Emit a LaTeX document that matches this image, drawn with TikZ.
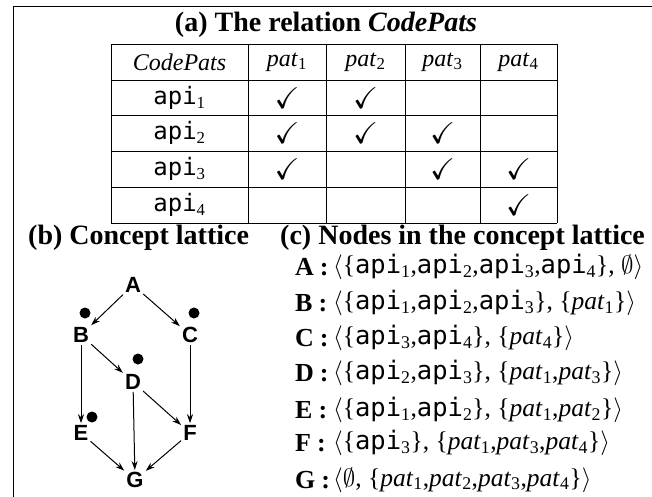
\documentclass[tikz,border=0pt]{standalone}
\usepackage{amssymb}
\usepackage{fontspec}
\setmainfont{Liberation Serif}
\setmonofont{DejaVu Sans Mono}
\newfontfamily\lsans{Liberation Sans}
\usetikzlibrary{arrows.meta}
\newcommand{\ap}[1]{\texttt{api}\textsubscript{#1}}
\newcommand{\pa}[1]{\textit{pat}\textsubscript{#1}}
\begin{document}
\begin{tikzpicture}[x=1pt,y=-1pt,
  ttl/.style={font=\fontsize{28}{30}\selectfont\bfseries, inner sep=0pt},
  cell/.style={font=\fontsize{24}{26}\selectfont, inner sep=0pt},
  chk/.style={font=\fontsize{30}{32}\selectfont, inner sep=0pt},
  lbl/.style={font=\fontsize{26}{28}\selectfont\bfseries, anchor=west, inner sep=0pt},
  frm/.style={font=\fontsize{25.5}{28}\selectfont, anchor=west, inner sep=0pt},
  lat/.style={font=\lsans\bfseries\fontsize{22}{24}\selectfont, inner sep=2pt},
  edge/.style={-{Stealth[length=9pt,width=6pt]}, line width=1pt},
  grid/.style={line width=0.8pt},
  dot/.style={circle, fill=black, inner sep=0pt, minimum size=11pt}]
\useasboundingbox (0,0) rectangle (652,496);
% frame (top and left edges visible)
\draw[line width=1pt] (13,500) -- (13,6) -- (660,6);
% (a)
\node[ttl] (ta) at (326,25) {(a) The relation \textit{CodePats}};
\foreach \x in {111,248,326,405,480,557} \draw[grid] (\x,44) -- (\x,223);
\foreach \y in {44,80,115.5,151,187,223} \draw[grid] (111,\y) -- (557,\y);
\node[cell] (h0) at (179.5,62) {\textit{CodePats}};
\node[cell] (h1) at (287,62) {\pa{1}};
\node[cell] (h2) at (365.5,62) {\pa{2}};
\node[cell] (h3) at (442.5,62) {\pa{3}};
\node[cell] (h4) at (518.5,62) {\pa{4}};
\node[cell] (r1) at (179.5,98) {\ap{1}};
\node[cell] (r2) at (179.5,133) {\ap{2}};
\node[cell] (r3) at (179.5,169) {\ap{3}};
\node[cell] (r4) at (179.5,205) {\ap{4}};
\node[chk] (c11) at (287,98) {$\checkmark$};
\node[chk] (c12) at (365.5,98) {$\checkmark$};
\node[chk] (c21) at (287,133) {$\checkmark$};
\node[chk] (c22) at (365.5,133) {$\checkmark$};
\node[chk] (c23) at (442.5,133) {$\checkmark$};
\node[chk] (c31) at (287,169) {$\checkmark$};
\node[chk] (c33) at (442.5,169) {$\checkmark$};
\node[chk] (c34) at (518.5,169) {$\checkmark$};
\node[chk] (c44) at (518.5,205) {$\checkmark$};
% (b)
\node[ttl, anchor=west] (tb) at (28,238) {(b) Concept lattice};
\node[lat] (A) at (133,285) {A};
\node[lat] (B) at (81,335) {B};
\node[lat] (C) at (190,335) {C};
\node[lat] (D) at (133,382) {D};
\node[lat] (E) at (81,433) {E};
\node[lat] (F) at (190,433) {F};
\node[lat] (G) at (135,480) {G};
\node[dot] (dB) at (85,313) {};
\node[dot] (dC) at (194,313) {};
\node[dot] (dD) at (138,359) {};
\node[dot] (dE) at (92,417) {};
\draw[edge] (A) -- (B);
\draw[edge] (A) -- (C);
\draw[edge] (B) -- (D);
\draw[edge] (B) -- (E);
\draw[edge] (C) -- (F);
\draw[edge] (D) -- (F);
\draw[edge] (D) -- (G);
\draw[edge] (E) -- (G);
\draw[edge] (F) -- (G);
% (c)
\node[ttl, anchor=west] (tc) at (280,238) {(c) Nodes in the concept lattice};
\node[lbl] (lA) at (295,267) {A\hspace{6pt}:};
\node[lbl] (lB) at (295,303) {B\hspace{6pt}:};
\node[lbl] (lC) at (295,338) {C\hspace{6pt}:};
\node[lbl] (lD) at (295,373) {D\hspace{6pt}:};
\node[lbl] (lE) at (295,410) {E\hspace{6pt}:};
\node[lbl] (lF) at (295,443) {F\hspace{6pt}:};
\node[lbl] (lG) at (295,480) {G\hspace{6pt}:};
\node[frm] (fA) at (333,267) {$\langle$\{\ap{1},\ap{2},\ap{3},\ap{4}\}, $\emptyset\rangle$};
\node[frm] (fB) at (333,303) {$\langle$\{\ap{1},\ap{2},\ap{3}\}, \{\pa{1}\}$\rangle$};
\node[frm] (fC) at (333,338) {$\langle$\{\ap{3},\ap{4}\}, \{\pa{4}\}$\rangle$};
\node[frm] (fD) at (333,373) {$\langle$\{\ap{2},\ap{3}\}, \{\pa{1},\pa{3}\}$\rangle$};
\node[frm] (fE) at (333,410) {$\langle$\{\ap{1},\ap{2}\}, \{\pa{1},\pa{2}\}$\rangle$};
\node[frm] (fF) at (333,443) {$\langle$\{\ap{3}\}, \{\pa{1},\pa{3},\pa{4}\}$\rangle$};
\node[frm] (fG) at (333,480) {$\langle\emptyset$, \{\pa{1},\pa{2},\pa{3},\pa{4}\}$\rangle$};
\end{tikzpicture}
\end{document}
